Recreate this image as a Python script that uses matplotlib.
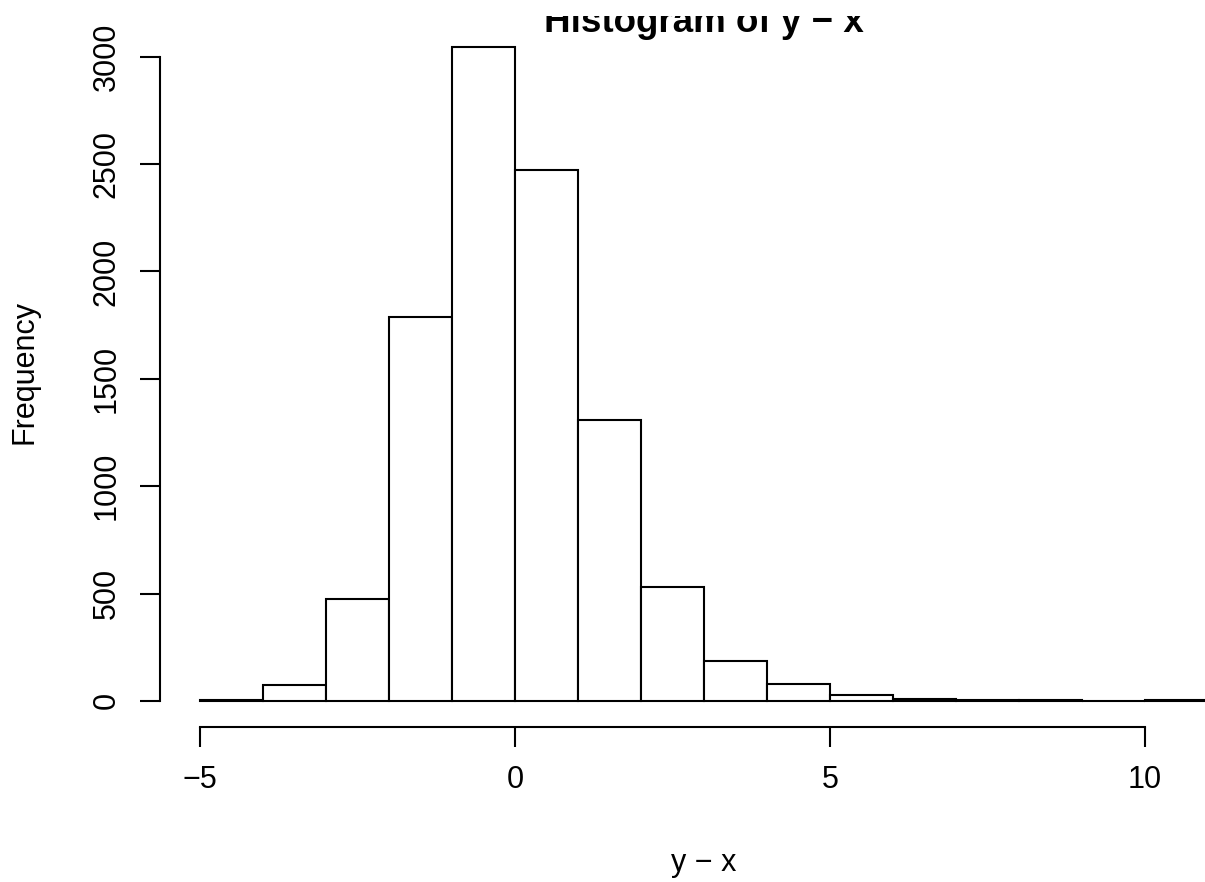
import numpy as np
import matplotlib
matplotlib.use("Agg")
import matplotlib.pyplot as plt
from matplotlib.transforms import Bbox

plt.rcParams["font.family"] = ["Liberation Sans", "DejaVu Sans"]

# histogram of the differences, unit-width bins from -5 to 11
bin_edges = np.arange(-5, 12, 1)
counts = [3, 75, 475, 1790, 3045, 2475, 1310, 530, 185, 78, 28, 9, 3, 2, 0, 2]

W, H = 1205, 882
fig = plt.figure(figsize=(W / 100, H / 100), dpi=100)

# plot region in pixels (right edge runs past the figure)
left, right, top, bottom = 160, 1248, 21, 727
ax = fig.add_axes([left / W, 1 - bottom / H, (right - left) / W, (bottom - top) / H])

ax.bar(bin_edges[:-1], counts, width=np.diff(bin_edges), align="edge",
       facecolor="white", edgecolor="black", linewidth=1.5)

ax.set_xlim(-5.64, 11.64)
ax.set_ylim(-121.8, 3166.8)

for s in ["top", "right"]:
    ax.spines[s].set_visible(False)
ax.spines["left"].set_bounds(0, 3000)
ax.spines["bottom"].set_bounds(-5, 10)
ax.spines["left"].set_linewidth(1.5)
ax.spines["bottom"].set_linewidth(1.5)

ax.set_xticks([-5, 0, 5, 10])
ax.set_yticks(range(0, 3001, 500))
ax.tick_params(axis="both", length=14.4, width=1.5, labelsize=22, pad=13)
plt.setp(ax.get_yticklabels(), rotation=90, va="center")

# title sits at the very top edge and its upper part is cut off
title = fig.text((left + right) / 2 / W, 1 - 32 / H, "Histogram of y \u2212 x",
                 ha="center", va="baseline", fontsize=26.5, fontweight="bold")
title.set_clip_box(Bbox.from_extents(0, 0, W, H - 16))
title.set_clip_on(True)

fig.text((left + right) / 2 / W, 1 - 863 / H, "y \u2212 x",
         ha="center", va="center", fontsize=22)
fig.text(24 / W, 1 - 372 / H, "Frequency", rotation=90,
         ha="center", va="center", fontsize=22)

fig.savefig("out.png", dpi=100)
